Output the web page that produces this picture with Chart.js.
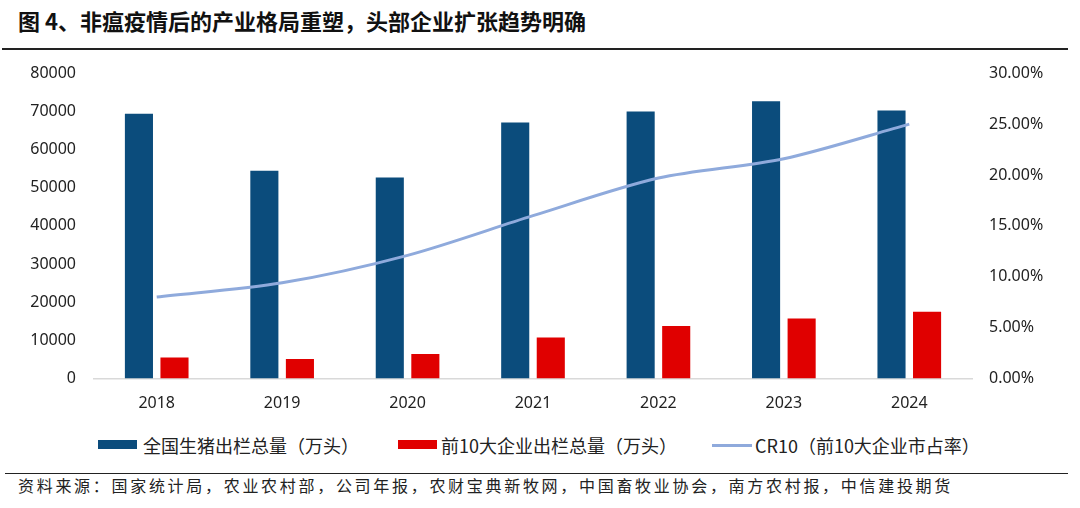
<!DOCTYPE html>
<html>
<head>
<meta charset="utf-8">
<script src="https://cdn.jsdelivr.net/npm/chart.js@4/dist/chart.umd.min.js"></script>
<style>
  html, body { margin:0; padding:0; background:#fff; }
  body { width:1080px; height:508px; position:relative; overflow:hidden; font-family:"Noto Sans CJK SC","Noto Sans",sans-serif; }
  #title { position:absolute; left:18px; top:5px; font-size:22px; font-weight:bold; color:#111; line-height:30px; white-space:nowrap; }
  #topline { position:absolute; left:2px; width:1066px; top:47.5px; height:2px; background:#222; }
  #wrap { position:absolute; left:0; top:0; width:1080px; height:430px; }
  .leg { position:absolute; top:433px; height:24px; line-height:24px; font-size:18px; color:#222; white-space:nowrap; }
  .sw { position:absolute; }
  #botline { position:absolute; left:5px; width:1063px; top:472.5px; height:1.5px; background:#222; }
  #source { position:absolute; left:18px; top:474px; font-size:16px; letter-spacing:2.7px; color:#222; line-height:22px; white-space:nowrap; }
</style>
</head>
<body>
<div id="title">图 4、非瘟疫情后的产业格局重塑，头部企业扩张趋势明确</div>
<div id="topline"></div>
<div id="wrap"><canvas id="c" width="1080" height="430"></canvas></div>

<div class="sw" style="left:98px;top:440px;width:39px;height:9px;background:#0b4c7c;"></div>
<div class="leg" style="left:143px;">全国生猪出栏总量（万头）</div>
<div class="sw" style="left:398px;top:440px;width:39px;height:9px;background:#e00000;"></div>
<div class="leg" style="left:441px;">前10大企业出栏总量（万头）</div>
<div class="sw" style="left:712px;top:443.5px;width:40px;height:3px;background:#8faadc;"></div>
<div class="leg" style="left:755px;">CR10（前10大企业市占率）</div>

<div id="botline"></div>
<div id="source">资料来源：国家统计局，农业农村部，公司年报，农财宝典新牧网，中国畜牧业协会，南方农村报，中信建投期货</div>

<script>
const categories = ['2018','2019','2020','2021','2022','2023','2024'];
const nationalHogs = [69382, 54419, 52704, 67128, 69995, 72662, 70256];
const top10Hogs = [5500, 5100, 6400, 10700, 13750, 15700, 17450];
const cr10 = [8.0, 9.4, 12.1, 16.0, 19.7, 21.6, 25.0];
const leftTicks = [0, 10000, 20000, 30000, 40000, 50000, 60000, 70000, 80000];
const rightTicks = [0, 5, 10, 15, 20, 25, 30];

const tickFont = { family: '"Noto Sans", sans-serif', size: 16 };
const tickColor = '#222';

new Chart(document.getElementById('c'), {
  data: {
    labels: categories,
    datasets: [
      { type:'line', label:'CR10（前10大企业市占率）', data: cr10, yAxisID:'y1',
        borderColor:'#8faadc', borderWidth:3, pointRadius:0, tension:0.3, order:0, fill:false },
      { type:'bar', label:'全国生猪出栏总量（万头）', data: nationalHogs, yAxisID:'y',
        backgroundColor:'#0b4c7c', barPercentage:0.79, categoryPercentage:0.567, order:1 },
      { type:'bar', label:'前10大企业出栏总量（万头）', data: top10Hogs, yAxisID:'y',
        backgroundColor:'#e00000', barPercentage:0.79, categoryPercentage:0.567, order:2 }
    ]
  },
  options: {
    responsive:false, animation:false, devicePixelRatio:1,
    layout:{ padding:{ top:73.3, left:0, right:0, bottom:0 } },
    plugins:{ legend:{ display:false }, tooltip:{ enabled:false } },
    scales:{
      x:{
        grid:{ display:false, drawTicks:false },
        border:{ display:true, color:'#d9d9d9', width:1.5 },
        ticks:{ font:tickFont, color:tickColor, padding:15, maxRotation:0 },
        afterFit(s){ s.height = 430 - 378.4; }
      },
      y:{
        position:'left', min:0, max:80000,
        afterBuildTicks(s){ s.ticks = leftTicks.map(v=>({value:v})); },
        grid:{ display:false, drawTicks:false },
        border:{ display:false },
        ticks:{ font:tickFont, color:tickColor, padding:18, callback:v=>String(v) },
        afterFit(s){ s.width = 94; }
      },
      y1:{
        position:'right', min:0, max:30,
        afterBuildTicks(s){ s.ticks = rightTicks.map(v=>({value:v})); },
        grid:{ display:false, drawTicks:false },
        border:{ display:false },
        ticks:{ font:tickFont, color:tickColor, padding:17, callback:v=>Number(v).toFixed(2)+'%' },
        afterFit(s){ s.width = 108; }
      }
    }
  }
});
</script>
</body>
</html>
